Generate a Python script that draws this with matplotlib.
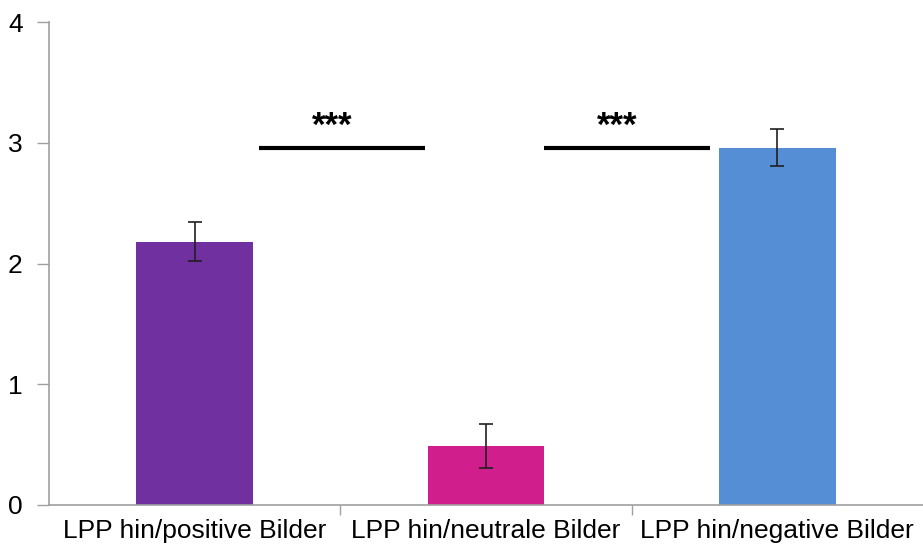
import matplotlib
matplotlib.use("Agg")
import matplotlib.pyplot as plt
import numpy as np

categories = ["LPP hin/positive Bilder", "LPP hin/neutrale Bilder", "LPP hin/negative Bilder"]
values = [2.18, 0.49, 2.96]
errors = [0.16, 0.18, 0.15]
colors = ["#7030A0", "#D01F8C", "#558ED5"]
sig_pairs = [(0, 1), (1, 2)]
sig_labels = ["***", "***"]

plt.rcParams['font.family'] = ['Liberation Sans', 'DejaVu Sans']
fig = plt.figure(figsize=(9.23, 5.51), dpi=100)
ax = fig.add_axes([49/923, 1-505/551, 1-49/923, (505-22)/551])

x = np.arange(len(categories))
ax.bar(x, values, width=0.4, color=colors, zorder=2)
ax.errorbar(x, values, yerr=errors, fmt='none', ecolor='#202020', elinewidth=1.2, capsize=4.7, capthick=1.2, zorder=3)

ax.set_xlim(-0.5, 2.5)
ax.set_ylim(0, 4)
ax.set_yticks([0, 1, 2, 3, 4])
ax.set_xticks(x)
ax.set_xticklabels(categories, fontsize=19)
ax.tick_params(axis='x', which='major', length=0, pad=10)
ax.set_xticks([0.5, 1.5], minor=True)
ax.tick_params(axis='x', which='minor', length=7, color='#A0A0A0', width=1)
ax.tick_params(axis='y', length=9, color='#A0A0A0', width=1, labelsize=19, pad=10)

for s in ['top', 'right']:
    ax.spines[s].set_visible(False)
for s in ['left', 'bottom']:
    ax.spines[s].set_color('#A0A0A0')
    ax.spines[s].set_linewidth(1.2)

offsets = [(0.22, 0.21), (0.20, 0.23)]
for (a, b), lab, (o0, o1) in zip(sig_pairs, sig_labels, offsets):
    y = max(values)
    x0 = a + o0
    x1 = b - o1
    ax.plot([x0, x1], [y, y], color='black', lw=3, solid_capstyle='butt', zorder=4)
    ax.text((x0 + x1) / 2 - 0.033, y + 0.04, lab, ha='center', va='bottom', fontsize=25, fontweight='bold')

fig.savefig("out.png", dpi=100)
